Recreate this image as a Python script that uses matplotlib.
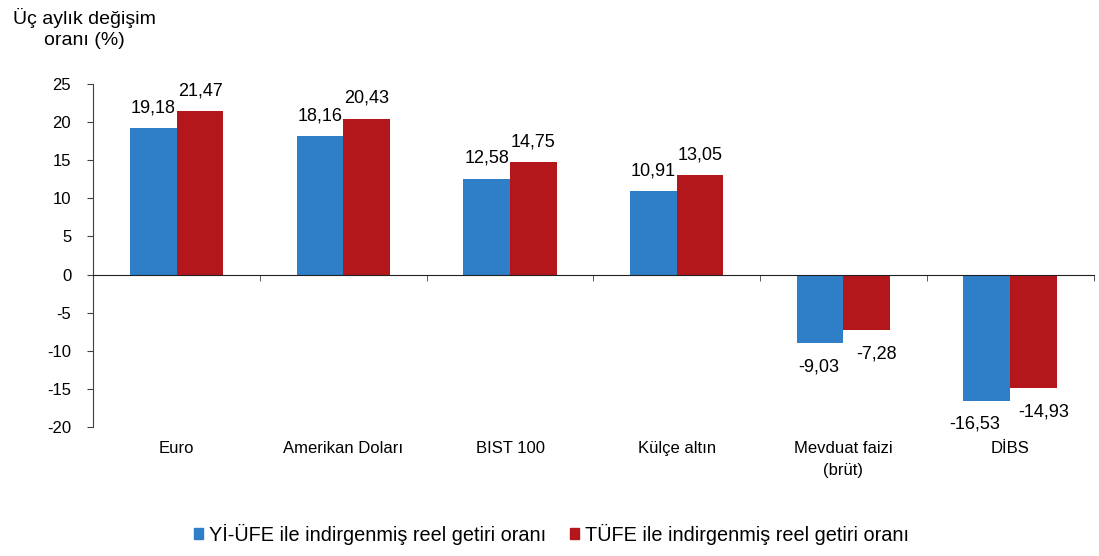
import matplotlib.pyplot as plt
import matplotlib.transforms as mtransforms
from matplotlib.patches import Patch
import numpy as np

plt.rcParams['font.family'] = ['Liberation Sans', 'DejaVu Sans']
plt.rcParams['axes.unicode_minus'] = False

categories = ['Euro', 'Amerikan Doları', 'BIST 100', 'Külçe altın', 'Mevduat faizi\n(brüt)', 'DİBS']
yi_ufe = [19.18, 18.16, 12.58, 10.91, -9.03, -16.53]
tufe = [21.47, 20.43, 14.75, 13.05, -7.28, -14.93]
series_names = ['Yİ-ÜFE ile indirgenmiş reel getiri oranı', 'TÜFE ile indirgenmiş reel getiri oranı']
yticks = [25, 20, 15, 10, 5, 0, -5, -10, -15, -20]

# sideways shift (points) of the value labels, as in the original
dx_blue = [0, 0, 0, 0, -1, -9]
dx_red = [0, 0, 0, 0, 7, 7]

blue = '#2f7fc8'
red = '#b3161b'
fs = 12

fig = plt.figure(figsize=(10.99, 5.56), dpi=100)
ax = fig.add_axes([0.085, 0.232, 0.91, 0.617])

x = np.arange(len(categories))
w = 0.28
b1 = ax.bar(x - w / 2, yi_ufe, w, color=blue)
b2 = ax.bar(x + w / 2, tufe, w, color=red)

def label_bars(bars, vals, shifts):
    for bar, v, dx in zip(bars, vals, shifts):
        cx = bar.get_x() + bar.get_width() / 2
        txt = f'{v:.2f}'.replace('.', ',')
        if v >= 0:
            ax.annotate(txt, (cx, v), xytext=(dx, 8.5), textcoords='offset points',
                        ha='center', va='bottom', fontsize=13)
        else:
            ax.annotate(txt, (cx, v), xytext=(dx, -11), textcoords='offset points',
                        ha='center', va='top', fontsize=13)

label_bars(b1, yi_ufe, dx_blue)
label_bars(b2, tufe, dx_red)

ax.set_xlim(-0.5, len(categories) - 0.5)
ax.set_ylim(-20, 25)
ax.set_yticks(yticks)
ax.tick_params(axis='y', labelsize=fs, length=4, direction='out', color='#404040', pad=12)

# zero line carries the category boundary ticks
ax.spines['bottom'].set_position(('data', 0))
ax.spines['top'].set_visible(False)
ax.spines['right'].set_visible(False)
ax.spines['left'].set_color('#404040')
ax.spines['bottom'].set_color('#202020')
ax.set_xticks(np.arange(-0.5, len(categories)), minor=True)
ax.set_xticks([])
ax.tick_params(axis='x', which='minor', length=4, direction='out', color='#404040')

trans = mtransforms.blended_transform_factory(ax.transData, ax.transAxes)
for xi, cat in zip(x, categories):
    ax.text(xi, -0.04, cat, transform=trans, ha='center', va='top', fontsize=fs,
            linespacing=1.6)

fig.text(0.077, 0.985, 'Üç aylık değişim\noranı (%)', ha='center', va='top',
         fontsize=14, linespacing=1.3)

handles = [Patch(color=blue), Patch(color=red)]
fig.legend(handles, series_names, loc='lower center', bbox_to_anchor=(0.502, -0.012),
           ncol=2, frameon=False, fontsize=14.3, handlelength=0.45, handleheight=0.45,
           handletextpad=0.3, columnspacing=1.2)

fig.savefig('out.png', dpi=100)
